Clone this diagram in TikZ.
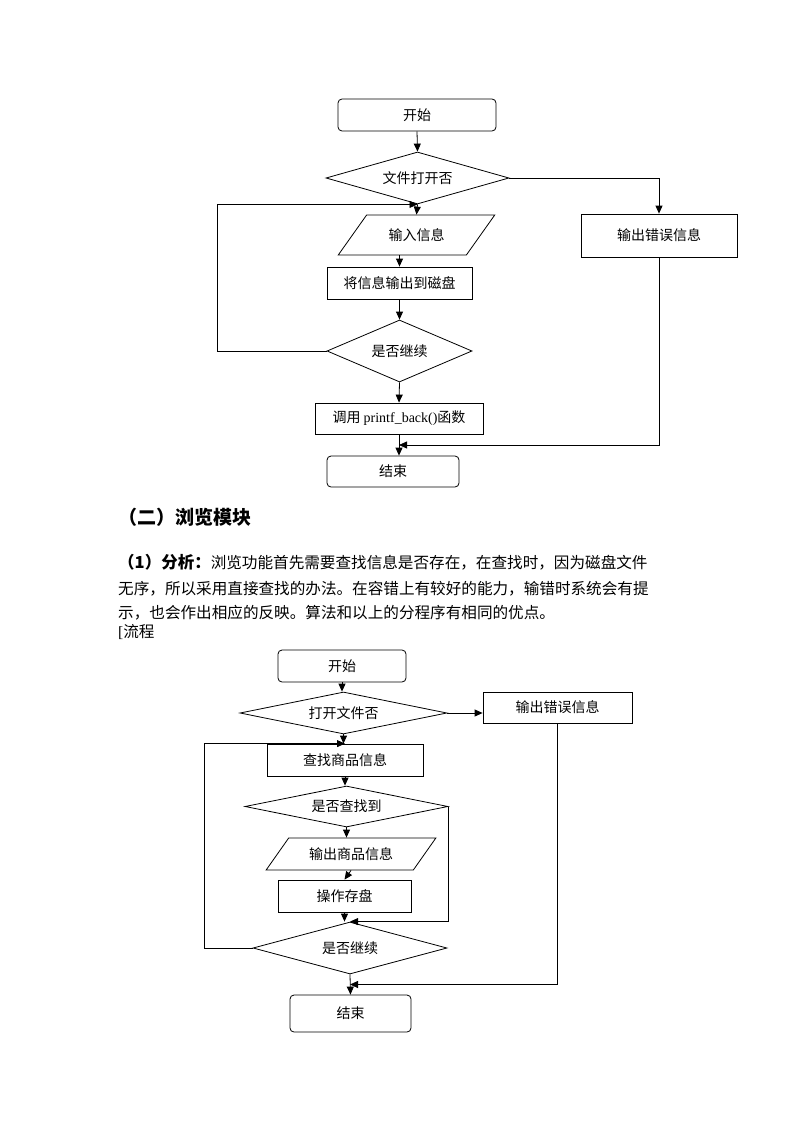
\documentclass[tikz,border=0pt]{standalone}
\usepackage{fontspec}
\setmainfont{Liberation Serif}
\newfontfamily\cjk{Noto Sans CJK SC}
\usetikzlibrary{shapes.geometric,arrows.meta,calc}

\begin{document}
\begin{tikzpicture}[x=1pt,y=-1pt,
	every node/.style={font=\cjk\fontsize{14}{16}\selectfont},
	box/.style={draw,line width=0.8pt,inner sep=2pt},
	term/.style={box,rounded corners=4pt},
	cond/.style={box,diamond,inner sep=0pt},
	inout/.style={box,trapezium,trapezium left angle=45,trapezium right angle=135,trapezium stretches=true},
	arr/.style={line width=0.8pt,-{Triangle[length=8pt,width=7pt]}},
	txt/.style={anchor=west,inner sep=0pt,font=\cjk\fontsize{15.6}{18}\selectfont}]
	\useasboundingbox (0,0) rectangle (800,1132);

	%FLOW 1
	\node[term,minimum width=158pt,minimum height=32pt] (s1) at (417,115) {开始};
	\node[cond,aspect=3.52,minimum width=183pt,minimum height=52pt] (q1) at (417.5,178) {文件打开否};
	\node[box,minimum width=156pt,minimum height=43pt] (err1) at (659,235.5) {输出错误信息};
	\node[inout,minimum width=157pt,minimum height=40pt] (in1) at (416.5,235) {输入信息};
	\node[box,minimum width=145pt,minimum height=32pt] (w1) at (399.5,283) {将信息输出到磁盘};
	\node[cond,aspect=2.34,minimum width=145pt,minimum height=62pt] (k1) at (399.5,351) {是否继续};
	\node[box,minimum width=168pt,minimum height=31pt] (c1) at (399,418.5) {调用 {\rmfamily printf\_back()}函数};
	\node[term,minimum width=132pt,minimum height=31pt] (e1) at (393,471.5) {结束};
	\coordinate (j1) at ($(c1.south)!.5!(c1.south |- e1.north)$);

	\draw[arr] (s1.south) -- (q1.north);
	\draw[arr] (q1.south) -- (in1.north);
	\draw[arr] (in1.south -| w1.north) -- (w1.north);
	\draw[arr] (w1.south) -- (k1.north);
	\draw[arr] (k1.south) -- (c1.north);
	\draw[arr] (c1.south) -- (c1.south |- e1.north);
	\draw[arr] (k1.west) -- ++(-109,0) |- (q1.south);
	\draw[arr] (q1.east) -| (err1.north);
	\draw[arr] (err1.south) |- (j1);

	%TEXT
	\node[txt,font=\cjk\bfseries\fontsize{19}{22}\selectfont] (h2) at (118,517) {（二）浏览模块};
	\node[txt] (p1) at (118,562) {{\bfseries\fontsize{16.5}{18}\selectfont （1）分析：}浏览功能首先需要查找信息是否存在，在查找时，因为磁盘文件};
	\node[txt] (p2) at (118,589) {无序，所以采用直接查找的办法。在容错上有较好的能力，输错时系统会有提};
	\node[txt] (p3) at (118,613) {示，也会作出相应的反映。算法和以上的分程序有相同的优点。};
	\node[txt] (p4) at (118,632) {{\rmfamily [}流程};

	%FLOW 2
	\node[term,minimum width=128pt,minimum height=32pt] (s2) at (342,666) {开始};
	\node[cond,aspect=4.93,minimum width=207pt,minimum height=42pt] (q2) at (343.5,713) {打开文件否};
	\node[box,minimum width=149pt,minimum height=31pt] (err2) at (557.5,707.5) {输出错误信息};
	\node[box,minimum width=156pt,minimum height=32pt] (f2) at (345,760) {查找商品信息};
	\node[cond,aspect=4.95,minimum width=203pt,minimum height=41pt] (q3) at (346.5,806.5) {是否查找到};
	\node[inout,trapezium left angle=47,trapezium right angle=133,minimum width=170pt,minimum height=32pt] (o2) at (351,854) {输出商品信息};
	\node[box,minimum width=133pt,minimum height=32pt] (d2) at (344.5,896) {操作存盘};
	\node[cond,aspect=3.73,minimum width=194pt,minimum height=52pt] (k2) at (350,948) {是否继续};
	\node[term,minimum width=121pt,minimum height=37pt] (e2) at (350.5,1013.5) {结束};
	\coordinate (j2) at ($(k2.south)!.5!(k2.south |- e2.north)$);

	\draw[arr] (s2.south) -- (s2.south |- q2.north);
	\draw[arr] (q2.east) -- (q2.east -| err2.west);
	\draw[arr] (q2.south) -- (q2.south |- f2.north);
	\draw[arr] (f2.south) -- (f2.south |- q3.north);
	\draw[arr] (q3.south) -- (q3.south |- o2.north);
	\draw[arr] (o2.south) -- (d2.north);
	\draw[arr] (d2.south) -- (d2.south |- k2.north);
	\draw[arr] (k2.south) -- (e2.north);
	\draw[arr] (q3.east) |- (k2.north);
	\draw[arr] (k2.west) -- ++(-48,0) |- (f2.north);
	\draw[arr] (err2.south) |- (j2);
\end{tikzpicture}
\end{document}
